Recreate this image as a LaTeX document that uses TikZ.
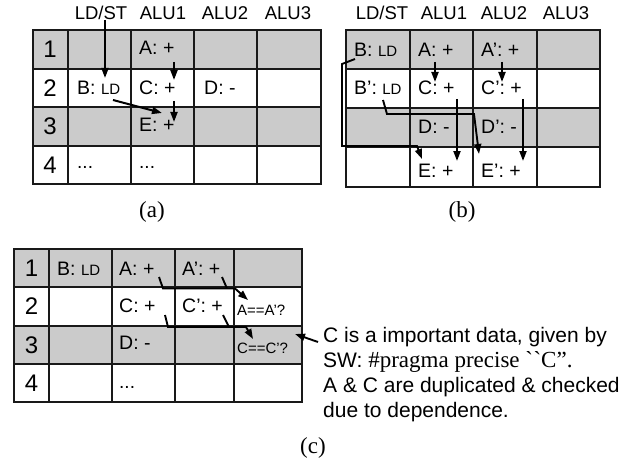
\documentclass[tikz,border=0pt]{standalone}
\usepackage{fontspec}
\setmainfont{Liberation Sans}
\newfontfamily\capfont{Liberation Serif}
\usetikzlibrary{arrows.meta}
\definecolor{cellgray}{RGB}{203,203,203}
\definecolor{linec}{RGB}{25,25,25}
\begin{document}
\begin{tikzpicture}[x=1pt,y=-1pt,
  grid/.style={line width=1.5pt, draw=linec},
  cell/.style={anchor=west, inner sep=0pt, font=\fontsize{19.5}{21}\selectfont},
  dots/.style={anchor=base west, inner sep=0pt, font=\fontsize{19}{21}\selectfont},
  rownum/.style={inner sep=0pt, font=\fontsize{24}{26}\selectfont},
  head/.style={inner sep=0pt, font=\fontsize{18.5}{20}\selectfont},
  small/.style={anchor=west, inner sep=0pt, font=\fontsize{15}{16}\selectfont},
  captext/.style={inner sep=0pt, font=\capfont\fontsize{23}{25}\selectfont},
  arr/.style={line width=2pt, -{Triangle[length=10pt,width=7pt]}},
  parr/.style={line width=1.9pt, -{Triangle[length=10pt,width=7pt]}},
  pline/.style={line width=1.9pt},
  note/.style={anchor=base west, inner sep=0pt, font=\fontsize{21}{25}\selectfont}]
\newcommand\ldx{{\fontsize{15}{16}\selectfont LD}}
\useasboundingbox (0,0) rectangle (639,468);

% ---------------- table (a)
\fill[cellgray] (33,30) rectangle (321,69);
\fill[cellgray] (33,107) rectangle (321,146);
\draw[grid] (33,30) rectangle (321,184);
\foreach \x in {68,131,194,257} \draw[grid] (\x,30) -- (\x,184);
\foreach \y in {69,107,146} \draw[grid] (33,\y) -- (321,\y);

\node[head] (ha1) at (101,13) {LD/ST};
\node[head] (ha2) at (163,13) {ALU1};
\node[head] (ha3) at (225,13) {ALU2};
\node[head] (ha4) at (288,13) {ALU3};

\node[rownum] (ra1) at (50,49.5) {1};
\node[rownum] (ra2) at (50,88) {2};
\node[rownum] (ra3) at (50,126.5) {3};
\node[rownum] (ra4) at (50,165) {4};

\node[cell] (aA) at (139,48) {A: +};
\node[cell] (aB) at (77,88) {B: \ldx};
\node[cell] (aC) at (139,88) {C: +};
\node[cell] (aD) at (204,88) {D: -};
\node[cell] (aE) at (139,125) {E: +};
\node[dots] (ad1) at (77,168) {...};
\node[dots] (ad2) at (139,168) {...};

\coordinate (a1s) at (105,20);  \coordinate (a1e) at (105,78);
\coordinate (a2s) at (174,62);  \coordinate (a2e) at (174,80);
\coordinate (a3s) at (174,101); \coordinate (a3e) at (174,122);
\coordinate (a4s) at (113,100); \coordinate (a4e) at (162,113);
\draw[arr] (a1s) -- (a1e);
\draw[arr] (a2s) -- (a2e);
\draw[arr] (a3s) -- (a3e);
\draw[arr] (a4s) -- (a4e);

\node[captext] (capa) at (152,212) {(a)};

% ---------------- table (b)
\fill[cellgray] (346,30) rectangle (600,69);
\fill[cellgray] (346,108) rectangle (600,147);
\draw[grid] (346,30) rectangle (600,187);
\foreach \x in {410,473,537} \draw[grid] (\x,30) -- (\x,187);
\foreach \y in {69,108,147} \draw[grid] (346,\y) -- (600,\y);

\node[head] (hb1) at (382,13) {LD/ST};
\node[head] (hb2) at (444,13) {ALU1};
\node[head] (hb3) at (504,13) {ALU2};
\node[head] (hb4) at (566,13) {ALU3};

\node[cell] (bB) at (354,50) {B: \ldx};
\node[cell] (bA) at (418,50) {A: +};
\node[cell] (bA2) at (481,50) {A’: +};
\node[cell] (bB2) at (354,88) {B’: \ldx};
\node[cell] (bC) at (418,88) {C: +};
\node[cell] (bC2) at (481,88) {C’: +};
\node[cell] (bD) at (418,127) {D: -};
\node[cell] (bD2) at (481,127) {D’: -};
\node[cell] (bE) at (418,171) {E: +};
\node[cell] (bE2) at (481,171) {E’: +};

\coordinate (b1s) at (435,62);  \coordinate (b1e) at (435,82);
\coordinate (b2s) at (502,62);  \coordinate (b2e) at (502,82);
\coordinate (b3s) at (457,99);  \coordinate (b3e) at (457,161);
\coordinate (b4s) at (523,99);  \coordinate (b4e) at (523,161);
\draw[arr] (b1s) -- (b1e);
\draw[arr] (b2s) -- (b2e);
\draw[arr] (b3s) -- (b3e);
\draw[arr] (b4s) -- (b4e);
\coordinate (b5s) at (355,59); \coordinate (b5e) at (422,159);
\draw[parr] (b5s) -- (342,64) -- (342,146) -- (417,146) -- (b5e);
\coordinate (b6s) at (383,100); \coordinate (b6e) at (479,154);
\draw[parr] (b6s) -- (387,114) -- (474,114) -- (b6e);

\node[captext] (capb) at (462,212) {(b)};

% ---------------- table (c)
\fill[cellgray] (14,249) rectangle (302,287);
\fill[cellgray] (14,326) rectangle (302,364);
\draw[grid] (14,249) rectangle (302,402);
\foreach \x in {49,112,175,234} \draw[grid] (\x,249) -- (\x,402);
\foreach \y in {287,326,364} \draw[grid] (14,\y) -- (302,\y);

\node[rownum] (rc1) at (31.5,268) {1};
\node[rownum] (rc2) at (31.5,306.5) {2};
\node[rownum] (rc3) at (31.5,345) {3};
\node[rownum] (rc4) at (31.5,383) {4};

\node[cell] (cB) at (57,269) {B: \ldx};
\node[cell] (cA) at (119,269) {A: +};
\node[cell] (cA2) at (182,269) {A’: +};
\node[cell] (cC) at (119,306) {C: +};
\node[cell] (cC2) at (182,306) {C’: +};
\node[small] (cchk1) at (237,310) {A==A’?};
\node[cell] (cD) at (119,343) {D: -};
\node[small] (cchk2) at (237,348) {C==C’?};
\node[dots] (cd) at (119,388) {...};

\coordinate (c1s) at (159,277); \coordinate (c1e) at (248,300);
\coordinate (c2s) at (222,277); \coordinate (c2j) at (227,288.5);
\draw[parr] (c1s) -- (163,288.5) -- (235,288.5) -- (c1e);
\draw[pline] (c2s) -- (c2j);
\coordinate (c3s) at (165,315); \coordinate (c3e) at (253,339);
\coordinate (c4s) at (223,315); \coordinate (c4j) at (229,327);
\draw[parr] (c3s) -- (168,327) -- (246,327) -- (c3e);
\draw[pline] (c4s) -- (c4j);

\coordinate (n0) at (318,342); \coordinate (n1) at (295,334);
\draw[parr] (n0) -- (n1);

\node[note] (t1) at (323,342) {C is a important data, given by};
\node[note] (t2) at (323,367) {SW: {\capfont\fontsize{23}{25}\selectfont \#pragma precise \symbol{96}\kern0.5pt\symbol{96}C”.}};
\node[note] (t3) at (323,392) {A \& C are duplicated \& checked};
\node[note] (t4) at (323,417) {due to dependence.};

\node[captext] (capc) at (313,448) {(c)};
\end{tikzpicture}
\end{document}
